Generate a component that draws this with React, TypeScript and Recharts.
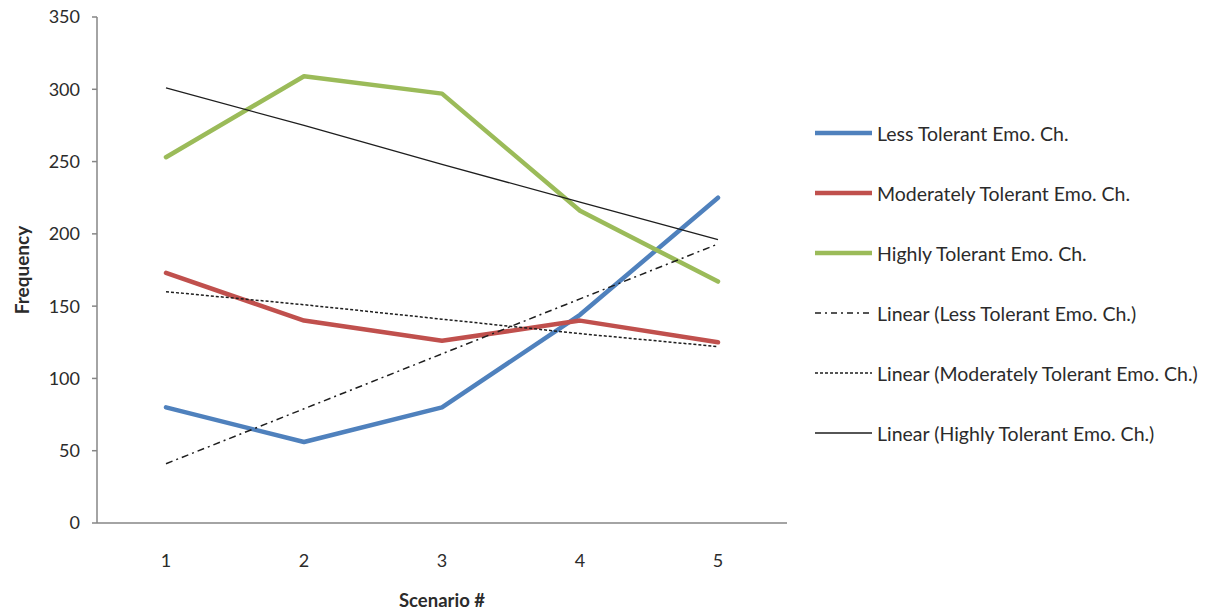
import React from 'react';
import { LineChart, Line, XAxis, YAxis, Legend, Label } from 'recharts';

const scenarios = ['1', '2', '3', '4', '5'];
const lessTolerant = [80, 56, 80, 144, 225];
const moderatelyTolerant = [173, 140, 126, 140, 125];
const highlyTolerant = [253, 309, 297, 216, 167];
const lessTrend = [41, 79, 117, 155, 193];
const moderateTrend = [160, 151, 141, 131, 122];
const highlyTrend = [301, 275, 248, 222, 196];
const yTicks = [0, 50, 100, 150, 200, 250, 300, 350];

const data = scenarios.map((s, i) => ({
  scenario: s,
  less: lessTolerant[i],
  moderate: moderatelyTolerant[i],
  high: highlyTolerant[i],
  lessT: lessTrend[i],
  moderateT: moderateTrend[i],
  highT: highlyTrend[i],
}));

const FONT = 'Lato, "Open Sans", sans-serif';
const TEXT = '#2b2b2b';
const AXIS = '#868686';
const TREND = '#1e1e1e';

const legendItems = [
  { label: 'Less Tolerant Emo. Ch.', color: '#4F81BD', width: 4.5, dash: undefined },
  { label: 'Moderately Tolerant Emo. Ch.', color: '#C0504D', width: 4.5, dash: undefined },
  { label: 'Highly Tolerant Emo. Ch.', color: '#9BBB59', width: 4.5, dash: undefined },
  { label: 'Linear (Less Tolerant Emo. Ch.)', color: TREND, width: 1.5, dash: '6 4 2 4' },
  { label: 'Linear (Moderately Tolerant Emo. Ch.)', color: TREND, width: 1.5, dash: '3 2' },
  { label: 'Linear (Highly Tolerant Emo. Ch.)', color: TREND, width: 1.5, dash: undefined },
];

const LegendContent = () => (
  <div style={{ fontFamily: FONT, fontSize: 19.5, color: TEXT }}>
    {legendItems.map((it) => (
      <div key={it.label} style={{ height: 60, display: 'flex', alignItems: 'center' }}>
        <svg width={57} height={10} style={{ marginRight: 5, flex: 'none' }}>
          <line x1={0} y1={5} x2={57} y2={5} stroke={it.color} strokeWidth={it.width} strokeDasharray={it.dash} />
        </svg>
        <span style={{ whiteSpace: 'nowrap' }}>{it.label}</span>
      </div>
    ))}
  </div>
);

const YTitle = (props: any) => {
  const vb = props.viewBox || {};
  const cx = vb.x + 21;
  const cy = vb.y + vb.height / 2;
  return (
    <text x={cx} y={cy} transform={`rotate(-90 ${cx} ${cy})`} textAnchor="middle" dominantBaseline="central"
      style={{ fontFamily: FONT, fontSize: 19, fontWeight: 700, fill: TEXT }}>
      Frequency
    </text>
  );
};

const XTitle = (props: any) => {
  const vb = props.viewBox || {};
  const cx = vb.x + vb.width / 2;
  const cy = vb.y + 77;
  return (
    <text x={cx} y={cy} textAnchor="middle" dominantBaseline="central"
      style={{ fontFamily: FONT, fontSize: 18.5, fontWeight: 700, fill: TEXT }}>
      Scenario #
    </text>
  );
};

export default function App() {
  return (
    <div style={{ position: 'absolute', left: 0, top: 0, width: 1226, height: 612, background: '#fff', fontFamily: FONT }}>
      <LineChart width={1226} height={612} data={data} margin={{ top: 17, right: 439, bottom: 0, left: 0 }}>
        <XAxis dataKey="scenario" scale="point" padding={{ left: 69, right: 69 }} height={89}
          tickLine={false} tickSize={6} tickMargin={25} stroke={AXIS} strokeWidth={1.5}
          tick={{ fontSize: 18, fill: TEXT, fontFamily: FONT }}>
          <Label content={<XTitle />} />
        </XAxis>
        <YAxis domain={[0, 350]} ticks={yTicks} width={97} tickSize={5} tickMargin={12} stroke={AXIS} strokeWidth={1.5}
          tick={{ fontSize: 18, fill: TEXT, fontFamily: FONT }} interval={0}>
          <Label content={<YTitle />} />
        </YAxis>
        <Legend layout="horizontal" verticalAlign="middle" align="center" content={<LegendContent />}
          wrapperStyle={{ left: 815, top: 103, width: 410 }} />
        <Line dataKey="less" stroke="#4F81BD" strokeWidth={4.5} dot={false} activeDot={false} isAnimationActive={false} strokeLinecap="round" strokeLinejoin="round" />
        <Line dataKey="moderate" stroke="#C0504D" strokeWidth={4.5} dot={false} activeDot={false} isAnimationActive={false} strokeLinecap="round" strokeLinejoin="round" />
        <Line dataKey="high" stroke="#9BBB59" strokeWidth={4.5} dot={false} activeDot={false} isAnimationActive={false} strokeLinecap="round" strokeLinejoin="round" />
        <Line dataKey="lessT" stroke={TREND} strokeWidth={1.5} strokeDasharray="7 4 2 4" dot={false} activeDot={false} isAnimationActive={false} />
        <Line dataKey="moderateT" stroke={TREND} strokeWidth={1.5} strokeDasharray="3 2" dot={false} activeDot={false} isAnimationActive={false} />
        <Line dataKey="highT" stroke={TREND} strokeWidth={1.3} dot={false} activeDot={false} isAnimationActive={false} />
      </LineChart>
    </div>
  );
}
